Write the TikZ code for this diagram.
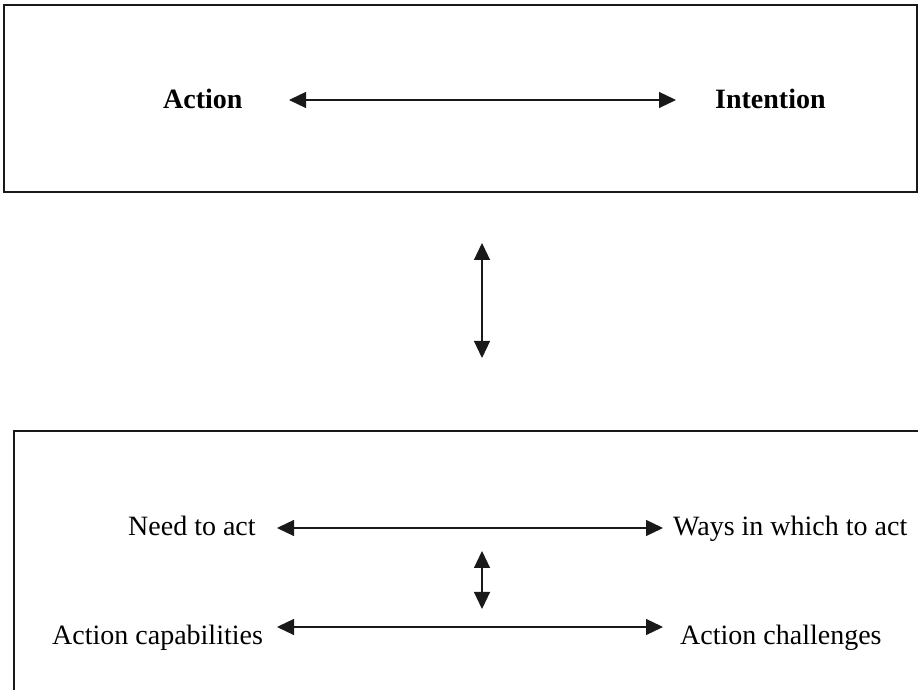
\documentclass[tikz,border=0pt]{standalone}
\usepackage{fontspec}
\setmainfont{Liberation Serif}
\usetikzlibrary{arrows.meta}
\begin{document}
\begin{tikzpicture}[x=1pt,y=1pt,
  lbl/.style={anchor=base west,inner sep=0pt,font=\fontsize{28}{34}\selectfont},
  blbl/.style={lbl,font=\fontsize{28}{34}\selectfont\bfseries},
  boxline/.style={line width=2.2pt,draw=black!90},
  arr/.style={line width=1.2pt,draw=black!90,{Triangle[width=16pt,length=17pt]}-{Triangle[width=16pt,length=17pt]}}]
\useasboundingbox (0,0) rectangle (918,690);
\fill[white] (0,0) rectangle (918,690);
% top box
\draw[boxline] (4,685) rectangle (917,498);
\node[blbl] (act) at (163,581) {Action};
\node[blbl] (int) at (715,581) {Intention};
\coordinate (t1) at (289,590);
\coordinate (t2) at (676,590);
\draw[arr] (t1) -- (t2);
% middle arrow
\coordinate (m1) at (482,447);
\coordinate (m2) at (482,332);
\draw[arr] (m1) -- (m2);
% bottom box (cut off)
\coordinate (b0) at (14,0);
\coordinate (b1) at (14,259);
\coordinate (b2) at (918,259);
\draw[boxline] (b0) -- (b1) -- (b2);
\node[lbl] (need) at (128,154) {Need to act};
\node[lbl] (ways) at (673,154) {Ways in which to act};
\node[lbl] (cap) at (52,45) {Action capabilities};
\node[lbl] (chal) at (680,45) {Action challenges};
\coordinate (u1) at (277,162);
\coordinate (u2) at (663,162);
\draw[arr] (u1) -- (u2);
\coordinate (l1) at (277,63);
\coordinate (l2) at (663,63);
\draw[arr] (l1) -- (l2);
\coordinate (s1) at (482,139);
\coordinate (s2) at (482,81);
\draw[arr] (s1) -- (s2);
\end{tikzpicture}
\end{document}
